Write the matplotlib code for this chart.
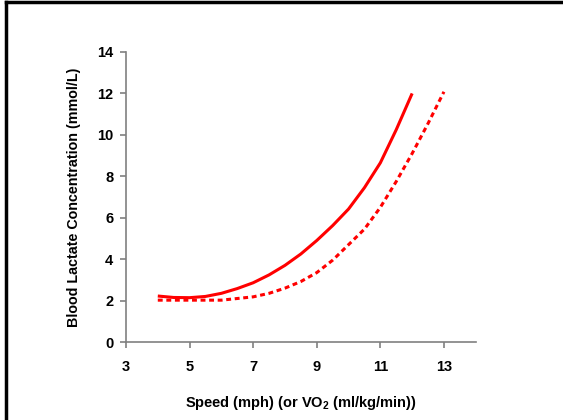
import numpy as np
import matplotlib
matplotlib.use("Agg")
import matplotlib.pyplot as plt
from matplotlib.lines import Line2D

# ----------------------------- data --------------------
SPEED_A = [4.0, 4.5, 5.0, 5.5, 6.0, 6.5, 7.0, 7.5, 8.0, 8.5, 9.0, 9.5,
           10.0, 10.5, 11.0, 11.5, 12.0]
LACT_A = [2.22, 2.15, 2.14, 2.20, 2.35, 2.58, 2.86, 3.24, 3.70, 4.25, 4.90,
          5.62, 6.42, 7.45, 8.65, 10.25, 12.0]

SPEED_B = [4.0, 5.0, 6.0, 6.5, 7.0, 7.5, 8.0, 8.5, 9.0, 9.5, 10.0, 10.5,
           11.0, 11.5, 12.0, 12.5, 13.0]
LACT_B = [2.02, 2.02, 2.02, 2.10, 2.18, 2.35, 2.60, 2.92, 3.35, 3.95, 4.70,
          5.45, 6.50, 7.75, 9.10, 10.55, 12.08]

XTICKS = [3, 5, 7, 9, 11, 13]
YTICKS = [0, 2, 4, 6, 8, 10, 12, 14]

# ----------------------------- plotting -------------------------------------
plt.rcParams.update({"font.family": "Liberation Sans", "font.weight": "bold",
                     "font.size": 10.5, "mathtext.fontset": "custom",
                     "mathtext.rm": "Liberation Sans:bold",
                     "mathtext.bf": "Liberation Sans:bold"})

fig = plt.figure(figsize=(5.63, 4.2), dpi=100)
ax = fig.add_axes([0.2238, 0.1857, 0.6212, 0.6905])

ax.plot(SPEED_A, LACT_A, color="#ff0000", lw=2.2, solid_capstyle="butt")
ax.plot(SPEED_B, LACT_B, color="#ff0000", lw=2.2, ls=(0, (1.6, 1.2)),
        dash_capstyle="butt")

ax.set_xlim(3, 14)
ax.set_ylim(0, 14)
ax.set_xticks(XTICKS)
ax.set_yticks(YTICKS)
for s in ("top", "right"):
    ax.spines[s].set_visible(False)
for s in ("left", "bottom"):
    ax.spines[s].set_color("#808080")
    ax.spines[s].set_linewidth(1.2)
ax.tick_params(colors="#808080", labelcolor="black", length=4, width=1.2,
               direction="out", pad=5)
ax.tick_params(axis="x", pad=9)

ax.set_xlabel("Speed (mph) (or VO$_\\mathbf{2}$ (ml/kg/min))", fontsize=10.5,
              fontweight="bold", labelpad=14)
ax.set_ylabel("Blood Lactate Concentration (mmol/L)", fontsize=10.3,
              fontweight="bold", labelpad=12)

# black frame on the top and left edges of the picture
fig.add_artist(Line2D([0.0107, 1.0], [0.9964, 0.9964], color="black", lw=2.5,
                      transform=fig.transFigure))
fig.add_artist(Line2D([0.0107, 0.0107], [0.0, 0.9964], color="black", lw=2.5,
                      transform=fig.transFigure))

fig.savefig("out.png", dpi=100)
